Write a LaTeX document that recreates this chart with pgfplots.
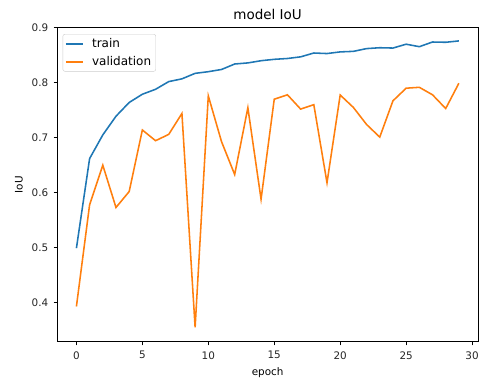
\documentclass[border=0pt]{standalone}
\usepackage{fontspec}
\setmainfont{DejaVu Sans}
\usepackage{pgfplots}
\pgfplotsset{compat=1.18}
\definecolor{mplblue}{HTML}{1F77B4}
\definecolor{mplorange}{HTML}{FF7F0E}
\begin{document}
\begin{tikzpicture}
\useasboundingbox (-57.3bp,-39.3bp) rectangle (422.7bp,341.7bp);
\begin{axis}[
  at={(0,0)}, anchor=south west,
  scale only axis, width=420.7bp, height=314.2bp,
  xmin=-1.45, xmax=30.45, ymin=0.3289, ymax=0.9004,
  xtick={0,5,10,15,20,25,30},
  ytick={0.4,0.5,0.6,0.7,0.8,0.9},
  /pgf/number format/assume math mode=true,
  tick label style={font=\fontsize{10.4bp}{12bp}\selectfont, color=black!85},
  xticklabel style={yshift=-2.5bp},
  yticklabel style={xshift=-2bp, /pgf/number format/.cd, fixed, fixed zerofill, precision=1},
  tick align=outside, tick pos=left,
  major tick length=3.6bp,
  every tick/.style={black, line width=0.83bp},
  axis line style={black, line width=0.83bp},
  title={model IoU},
  every axis title/.style={font=\fontsize{13.5bp}{15bp}\selectfont, at={(axis description cs:0.5,1.0239)}, anchor=base},
  xlabel={epoch},
  every axis x label/.style={font=\fontsize{10.4bp}{12bp}\selectfont, at={(axis description cs:0.5,-0.106)}, anchor=base},
  ylabel={IoU},
  every axis y label/.style={font=\fontsize{10.4bp}{12bp}\selectfont, at={(axis description cs:-0.091,0.5)}, anchor=center, rotate=90},
  legend style={at={(axis description cs:0.0128,0.979)}, anchor=north west,
    draw=black!20, rounded corners=2bp, fill=white,
    font=\fontsize{12bp}{13bp}\selectfont, inner xsep=2.1bp, inner ysep=2.8bp,
    row sep=4.2bp, column sep=6bp, nodes={inner xsep=2.5bp, inner ysep=1.5bp}},
  legend cell align=left,
]
\addlegendimage{mplblue, line width=1.6bp, line legend}
\addlegendentry{train}
\addlegendimage{mplorange, line width=1.6bp, line legend}
\addlegendentry{validation}
\addplot[mplblue, line width=1.56bp, forget plot] coordinates {
(0,0.499) (1,0.662) (2,0.705) (3,0.739) (4,0.764) (5,0.779) (6,0.788) (7,0.802)
(8,0.807) (9,0.817) (10,0.820) (11,0.824) (12,0.834) (13,0.836) (14,0.840)
(15,0.8425) (16,0.844) (17,0.847) (18,0.854) (19,0.853) (20,0.856) (21,0.857)
(22,0.862) (23,0.8636) (24,0.863) (25,0.870) (26,0.8655) (27,0.874) (28,0.8735) (29,0.876)
};
\addplot[mplorange, line width=1.56bp, forget plot] coordinates {
(0,0.393) (1,0.578) (2,0.650) (3,0.573) (4,0.602) (5,0.714) (6,0.6945) (7,0.706)
(8,0.744) (9,0.355) (10,0.776) (11,0.693) (12,0.633) (13,0.7545) (14,0.588)
(15,0.770) (16,0.778) (17,0.752) (18,0.760) (19,0.618) (20,0.7776) (21,0.755)
(22,0.724) (23,0.701) (24,0.767) (25,0.790) (26,0.7916) (27,0.778) (28,0.753) (29,0.799)
};
\end{axis}
\end{tikzpicture}
\end{document}
